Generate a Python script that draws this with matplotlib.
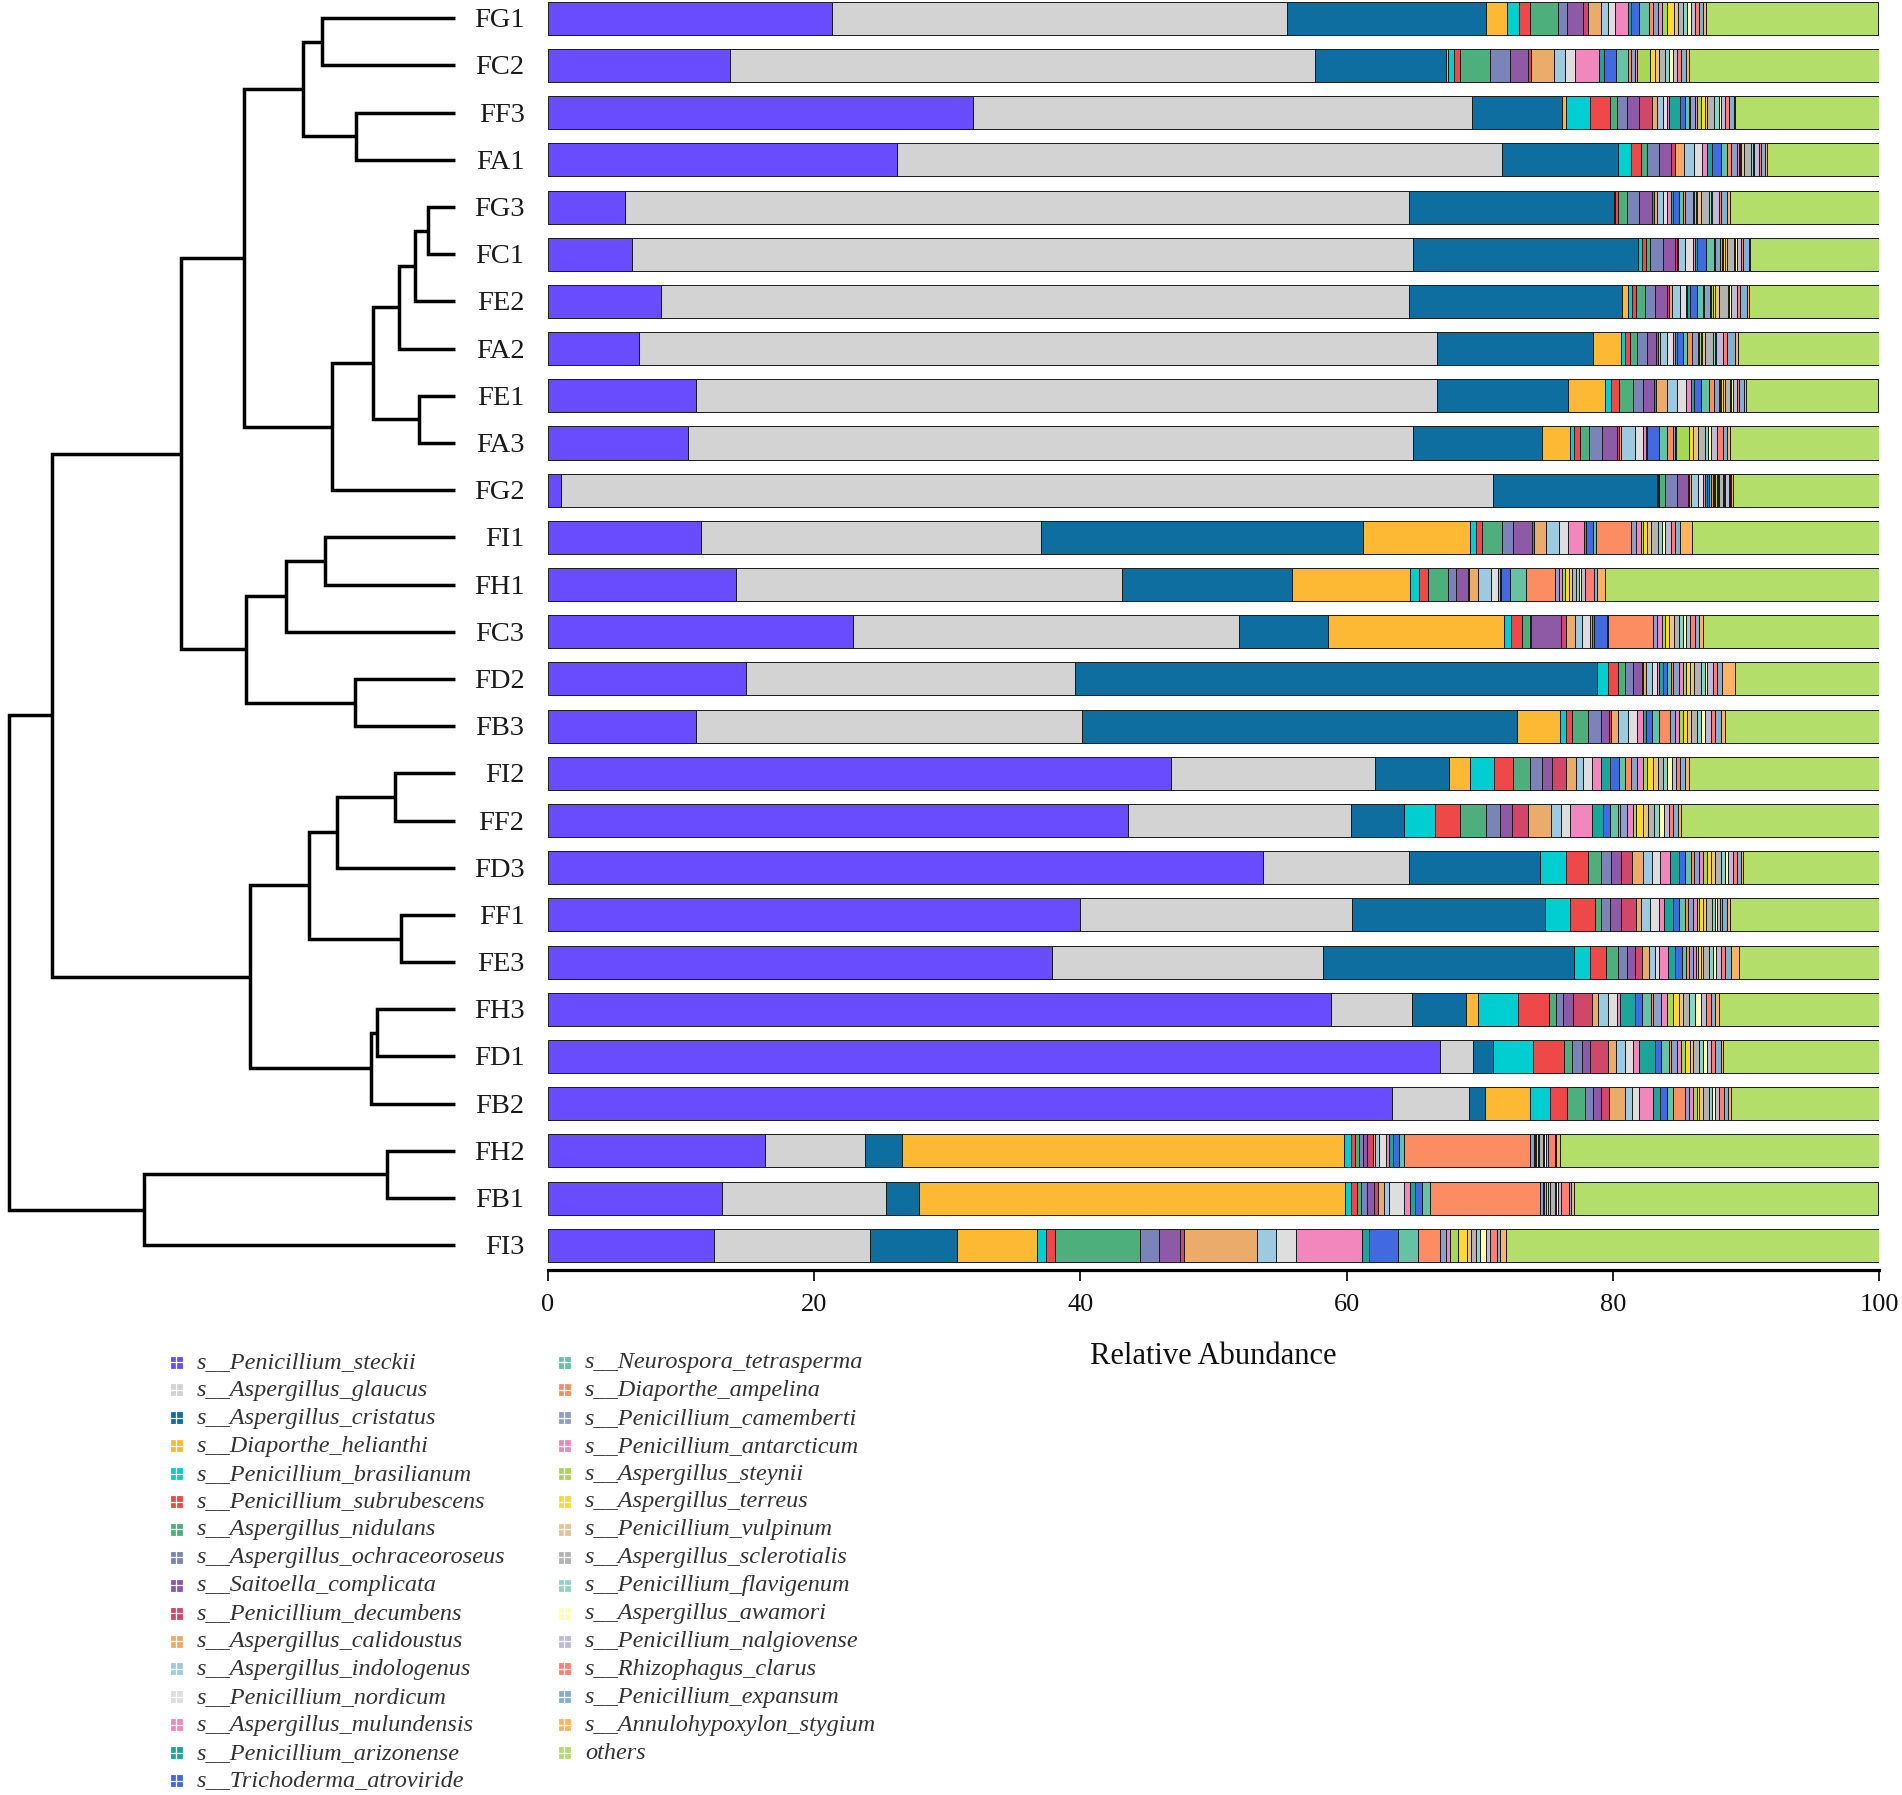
import matplotlib
matplotlib.use("Agg")
import matplotlib.pyplot as plt
import numpy as np
from matplotlib.patches import Rectangle

plt.rcParams['font.family'] = ['Liberation Serif', 'DejaVu Serif']

# ---------------- data ----------------
samples = ["FG1", "FC2", "FF3", "FA1", "FG3", "FC1", "FE2", "FA2", "FE1", "FA3",
           "FG2", "FI1", "FH1", "FC3", "FD2", "FB3", "FI2", "FF2", "FD3", "FF1",
           "FE3", "FH3", "FD1", "FB2", "FH2", "FB1", "FI3"]

species = ["s__Penicillium_steckii", "s__Aspergillus_glaucus", "s__Aspergillus_cristatus",
           "s__Diaporthe_helianthi", "s__Penicillium_brasilianum", "s__Penicillium_subrubescens",
           "s__Aspergillus_nidulans", "s__Aspergillus_ochraceoroseus", "s__Saitoella_complicata",
           "s__Penicillium_decumbens", "s__Aspergillus_calidoustus", "s__Aspergillus_indologenus",
           "s__Penicillium_nordicum", "s__Aspergillus_mulundensis", "s__Penicillium_arizonense",
           "s__Trichoderma_atroviride", "s__Neurospora_tetrasperma", "s__Diaporthe_ampelina",
           "s__Penicillium_camemberti", "s__Penicillium_antarcticum", "s__Aspergillus_steynii",
           "s__Aspergillus_terreus", "s__Penicillium_vulpinum", "s__Aspergillus_sclerotialis",
           "s__Penicillium_flavigenum", "s__Aspergillus_awamori", "s__Penicillium_nalgiovense",
           "s__Rhizophagus_clarus", "s__Penicillium_expansum", "s__Annulohypoxylon_stygium",
           "others"]

colors = ["#6A4CFF", "#D3D3D3", "#0E6EA0", "#FDB933", "#00CED1", "#EF4848", "#4DAF7C",
          "#7B84B8", "#8E5AA6", "#D0476A", "#EBAC6B", "#9DCAE1", "#DEDEDE", "#F287BE",
          "#1AA69A", "#4169E1", "#66C2A5", "#FC8D62", "#8DA0CB", "#E78AC3", "#A6D854",
          "#FFD92F", "#E5C494", "#B3B3B3", "#8DD3C7", "#FFFFB3", "#BEBADA", "#FB8072",
          "#80B1D3", "#FDB462", "#B3DE69"]

# relative abundance (%) per sample, in species order
FG1 = [21.3, 34.2, 15.0, 1.55, 0.9, 0.8, 2.1, 0.7, 1.2, 0.35, 1.0, 0.55, 0.5, 1.0, 0.25, 0.55, 0.8, 0.3, 0.35, 0.3, 0.4, 0.5, 0.3, 0.35, 0.3, 0.35, 0.3, 0.3, 0.3, 0.2, 12.9]
FC2 = [13.7, 43.9, 9.9, 0.1, 0.45, 0.5, 2.2, 1.5, 1.35, 0.25, 1.7, 0.85, 0.75, 1.8, 0.4, 0.9, 0.9, 0.25, 0.3, 0.1, 1.0, 0.35, 0.35, 0.4, 0.35, 0.3, 0.3, 0.3, 0.35, 0.2, 14.3]
FF3 = [31.9, 37.5, 6.8, 0.25, 1.85, 1.5, 0.55, 0.7, 0.95, 0.95, 0.35, 0.5, 0.3, 0.15, 0.8, 0.35, 0.3, 0.1, 0.35, 0.2, 0.3, 0.25, 0.2, 0.5, 0.35, 0.15, 0.35, 0.3, 0.35, 0.1, 10.8]
FA1 = [26.2, 45.5, 8.7, 0.0, 1.0, 0.7, 0.5, 0.85, 0.95, 0.3, 0.65, 0.75, 0.6, 0.4, 0.35, 0.65, 0.5, 0.3, 0.45, 0.1, 0.1, 0.1, 0.2, 0.5, 0.15, 0.1, 0.35, 0.15, 0.35, 0.15, 8.4]
FG3 = [5.8, 58.9, 15.4, 0.0, 0.1, 0.2, 0.65, 0.9, 1.0, 0.15, 0.2, 0.5, 0.3, 0.25, 0.2, 0.45, 0.3, 0.1, 0.6, 0.1, 0.15, 0.1, 0.3, 0.6, 0.1, 0.1, 0.5, 0.2, 0.4, 0.25, 11.2]
FC1 = [6.3, 58.7, 16.9, 0.0, 0.3, 0.3, 0.3, 1.0, 0.9, 0.1, 0.1, 0.5, 0.65, 0.1, 0.2, 0.65, 0.6, 0.1, 0.35, 0.15, 0.1, 0.1, 0.2, 0.5, 0.1, 0.1, 0.3, 0.2, 0.4, 0.1, 9.7]
FE2 = [8.5, 56.2, 16.0, 0.45, 0.3, 0.3, 0.65, 0.8, 0.9, 0.15, 0.2, 0.6, 0.45, 0.1, 0.2, 0.55, 0.4, 0.1, 0.45, 0.1, 0.15, 0.1, 0.3, 0.7, 0.1, 0.1, 0.5, 0.2, 0.5, 0.15, 9.8]
FA2 = [6.8, 60.0, 11.7, 2.1, 0.3, 0.4, 0.5, 0.75, 0.7, 0.15, 0.15, 0.5, 0.5, 0.1, 0.2, 0.4, 0.3, 0.4, 0.45, 0.1, 0.1, 0.1, 0.25, 0.6, 0.1, 0.1, 0.5, 0.35, 0.55, 0.25, 10.6]
FE1 = [11.1, 55.7, 9.8, 2.8, 0.5, 0.55, 1.05, 0.75, 0.85, 0.15, 0.85, 0.75, 0.65, 0.4, 0.2, 0.55, 0.55, 0.4, 0.35, 0.1, 0.1, 0.15, 0.1, 0.4, 0.1, 0.1, 0.3, 0.2, 0.35, 0.15, 9.9]
FA3 = [10.5, 54.5, 9.7, 2.1, 0.3, 0.45, 0.65, 1.0, 1.1, 0.15, 0.2, 1.0, 0.65, 0.2, 0.1, 0.85, 0.65, 0.45, 0.1, 0.1, 1.0, 0.3, 0.35, 0.5, 0.25, 0.25, 0.45, 0.4, 0.35, 0.2, 11.2]
FG2 = [1.0, 70.0, 12.3, 0.0, 0.1, 0.1, 0.4, 0.9, 0.85, 0.1, 0.1, 0.55, 0.4, 0.1, 0.15, 0.2, 0.15, 0.1, 0.1, 0.1, 0.1, 0.1, 0.1, 0.25, 0.1, 0.1, 0.25, 0.1, 0.1, 0.1, 11.0]
FI1 = [11.5, 25.55, 24.2, 8.05, 0.4, 0.5, 1.45, 0.85, 1.45, 0.15, 0.85, 1.0, 0.7, 1.2, 0.15, 0.5, 0.25, 2.6, 0.4, 0.35, 0.2, 0.3, 0.3, 0.5, 0.3, 0.25, 0.4, 0.35, 0.35, 0.9, 14.05]
FH1 = [14.1, 29.0, 12.8, 8.9, 0.65, 0.65, 1.5, 0.65, 0.85, 0.1, 0.65, 1.0, 0.55, 0.1, 0.1, 0.65, 1.2, 2.2, 0.3, 0.2, 0.25, 0.3, 0.2, 0.35, 0.2, 0.15, 0.3, 0.65, 0.25, 0.6, 20.6]
FC3 = [22.9, 29.0, 6.7, 13.2, 0.55, 0.8, 0.6, 0.1, 2.25, 0.4, 0.65, 0.55, 0.55, 0.15, 0.15, 1.0, 0.1, 3.4, 0.3, 0.35, 0.25, 0.3, 0.35, 0.35, 0.3, 0.25, 0.3, 0.35, 0.3, 0.35, 13.3]
FD2 = [14.9, 24.7, 39.2, 0.05, 0.8, 0.75, 0.55, 0.6, 0.65, 0.1, 0.2, 0.45, 0.35, 0.2, 0.3, 0.3, 0.3, 0.1, 0.45, 0.3, 0.25, 0.3, 0.3, 0.55, 0.25, 0.2, 0.45, 0.25, 0.4, 1.0, 10.8]
FB3 = [11.1, 29.0, 32.7, 3.2, 0.45, 0.5, 1.2, 0.95, 0.65, 0.15, 0.5, 0.75, 0.65, 0.5, 0.2, 0.45, 0.5, 0.85, 0.35, 0.3, 0.3, 0.35, 0.3, 0.45, 0.3, 0.3, 0.4, 0.35, 0.4, 0.35, 11.55]
FI2 = [46.8, 15.3, 5.6, 1.6, 1.8, 1.4, 1.3, 0.9, 0.75, 1.0, 0.75, 0.55, 0.65, 0.75, 0.65, 0.65, 0.5, 0.45, 0.45, 0.4, 0.35, 0.45, 0.35, 0.4, 0.3, 0.35, 0.3, 0.3, 0.4, 0.25, 14.3]
FF2 = [43.6, 16.7, 4.0, 0.0, 2.35, 1.85, 2.0, 1.0, 0.95, 1.15, 1.75, 0.75, 0.65, 1.7, 0.85, 0.5, 0.6, 0.15, 0.5, 0.5, 0.2, 0.5, 0.4, 0.45, 0.35, 0.4, 0.35, 0.35, 0.35, 0.2, 14.9]
FD3 = [53.7, 11.0, 9.8, 0.0, 1.95, 1.7, 1.0, 0.7, 0.75, 0.85, 0.85, 0.65, 0.6, 0.75, 0.65, 0.45, 0.5, 0.2, 0.35, 0.3, 0.3, 0.3, 0.3, 0.45, 0.3, 0.25, 0.35, 0.3, 0.35, 0.15, 10.2]
FF1 = [40.0, 20.4, 14.5, 0.0, 1.9, 1.85, 0.5, 0.65, 0.85, 1.1, 0.4, 0.65, 0.65, 0.4, 0.65, 0.5, 0.45, 0.2, 0.35, 0.3, 0.2, 0.3, 0.2, 0.45, 0.2, 0.2, 0.2, 0.15, 0.4, 0.2, 11.3]
FE3 = [37.9, 20.3, 18.9, 0.0, 1.2, 1.2, 0.9, 0.65, 0.65, 0.5, 0.5, 0.5, 0.3, 0.65, 0.55, 0.5, 0.3, 0.2, 0.3, 0.25, 0.15, 0.25, 0.15, 0.45, 0.25, 0.25, 0.35, 0.35, 0.4, 0.65, 10.5]
FH3 = [58.8, 6.1, 4.1, 0.9, 2.95, 2.35, 0.5, 0.55, 0.75, 1.4, 0.5, 0.75, 0.65, 0.25, 1.15, 0.5, 0.65, 0.2, 0.55, 0.5, 0.4, 0.45, 0.35, 0.45, 0.4, 0.45, 0.4, 0.35, 0.35, 0.25, 12.05]
FD1 = [67.0, 2.5, 1.5, 0.0, 3.0, 2.3, 0.65, 0.75, 0.6, 1.35, 0.6, 0.65, 0.6, 0.45, 1.2, 0.45, 0.6, 0.2, 0.4, 0.35, 0.3, 0.35, 0.25, 0.4, 0.3, 0.3, 0.35, 0.3, 0.4, 0.2, 11.7]
FB2 = [63.4, 5.8, 1.2, 3.4, 1.5, 1.25, 1.35, 0.6, 0.65, 0.6, 1.15, 0.55, 0.55, 1.0, 0.55, 0.55, 0.45, 0.85, 0.35, 0.25, 0.3, 0.2, 0.3, 0.45, 0.2, 0.2, 0.35, 0.35, 0.3, 0.25, 11.1]
FH2 = [16.3, 7.5, 2.8, 33.2, 0.55, 0.3, 0.25, 0.3, 0.3, 0.45, 0.2, 0.3, 0.5, 0.2, 0.3, 0.45, 0.4, 9.5, 0.25, 0.1, 0.1, 0.1, 0.1, 0.3, 0.1, 0.1, 0.2, 0.5, 0.1, 0.25, 24.0]
FB1 = [13.1, 12.3, 2.5, 32.0, 0.4, 0.45, 0.35, 0.45, 0.5, 0.3, 0.45, 0.35, 1.2, 0.45, 0.35, 0.5, 0.65, 8.2, 0.25, 0.1, 0.15, 0.15, 0.1, 0.4, 0.1, 0.1, 0.25, 0.6, 0.15, 0.25, 22.8]
FI3 = [12.5, 11.7, 6.5, 6.05, 0.65, 0.7, 6.4, 1.4, 1.55, 0.35, 5.5, 1.4, 1.5, 4.95, 0.55, 2.15, 1.55, 1.6, 0.45, 0.3, 0.65, 0.65, 0.3, 0.4, 0.3, 0.4, 0.3, 0.55, 0.2, 0.5, 28.0]

# hierarchical clustering merges (left, right, merge distance); new nodes are n1, n2, ...
merge_left = ["FG1", "FF3", "n1", "FG3", "n4", "n5", "FE1", "n6", "n8", "n3",
              "FI1", "n11", "FD2", "n12", "n10", "FI2", "n16", "FF1", "n17", "FH3",
              "n20", "n19", "n15", "FH2", "n24", "n23"]
merge_right = ["FC2", "FA1", "n2", "FC1", "FE2", "FA2", "FA3", "n7", "FG2", "n9",
               "FH1", "FC3", "FB3", "n13", "n14", "FF2", "FD3", "FE3", "n18", "FD1",
               "FB2", "n21", "n22", "FB1", "FI3", "n25"]
merge_height = [110, 82, 125.5, 22.5, 33, 46, 29.5, 67.5, 101.5, 174,
                107.5, 139.5, 82.5, 172, 226, 49.5, 97.5, 44.5, 120, 64,
                69, 169, 332, 56, 256, 368]

# ---------------- figure ----------------
W, H = 1902, 1795
fig = plt.figure(figsize=(W / 100, H / 100), dpi=100)

n = len(samples)
row_sp = 47.19
y0 = 18.3
ax_bottom_px = 1270
ylim = ((ax_bottom_px - y0) / row_sp, -y0 / row_sp)
frac_bottom = 1 - ax_bottom_px / H
frac_height = ax_bottom_px / H

# legend axes (pixel coordinates)
ax_l = fig.add_axes([0, 0, 1, 1])
ax_l.set_xlim(0, W)
ax_l.set_ylim(H, 0)
ax_l.axis('off')

# bar axes
bx0, bx1 = 548, 1879
ax = fig.add_axes([bx0 / W, frac_bottom, (bx1 - bx0) / W, frac_height])
table = np.array([globals()[s] for s in samples], dtype=float)
ypos = np.arange(n)
left = np.zeros(n)
for j in range(len(species)):
    w = table[:, j]
    m = w > 0
    ax.barh(ypos[m], w[m], left=left[m], height=0.7, color=colors[j],
            edgecolor='#1a1a1a', linewidth=0.7)
    left += w
ax.set_xlim(0, 100)
ax.set_ylim(*ylim)
ax.set_yticks([])
for s in ['top', 'right', 'left']:
    ax.spines[s].set_visible(False)
ax.spines['bottom'].set_linewidth(2.3)
ax.set_xticks([0, 20, 40, 60, 80, 100])
ax.tick_params(axis='x', length=8, width=1.3, direction='out', labelsize=19,
               pad=9, colors='#111111')
fig.text((bx0 + bx1) / 2 / W, 1 - 1364 / H, "Relative Abundance", ha='center',
         va='baseline', fontsize=22, color='#111111')

# dendrogram axes
ax_d = fig.add_axes([0, frac_bottom, bx0 / W, frac_height])
ax_d.set_ylim(*ylim)
leaf_px = 455
sc = 1.213
ax_d.set_xlim(leaf_px / sc, (leaf_px - bx0) / sc)
ax_d.axis('off')
pos = {s: i for i, s in enumerate(samples)}
hgt = {s: 0.0 for s in samples}
for k, (a, b, h) in enumerate(zip(merge_left, merge_right, merge_height)):
    ya, yb = pos[a], pos[b]
    ax_d.plot([hgt[a], h, h, hgt[b]], [ya, ya, yb, yb], color='black', lw=2.5,
              solid_joinstyle='miter', solid_capstyle='butt')
    nm = "n%d" % (k + 1)
    pos[nm] = (ya + yb) / 2
    hgt[nm] = h
lab_x = (leaf_px - 524.6) / sc
for i, s in enumerate(samples):
    ax_d.text(lab_x, i + 9 / row_sp, s, ha='right', va='baseline', fontsize=20.5,
              color='#1a1a1a', clip_on=False)

# legend
for k, (name, c) in enumerate(zip(species, colors)):
    col, r = (0, k) if k < 16 else (1, k - 16)
    xm = 176 if col == 0 else 564
    xt = 197 if col == 0 else 585
    yc = 1362 + r * 27.9
    ax_l.add_patch(Rectangle((xm - 5.5, yc - 5.5), 11, 11, facecolor=c,
                             edgecolor=c, lw=0.6))
    ax_l.plot([xm - 5.5, xm + 5.5], [yc, yc], color='white', lw=0.9)
    ax_l.plot([xm, xm], [yc - 5.5, yc + 5.5], color='white', lw=0.9)
    ax_l.text(xt, yc + 6, name, ha='left', va='baseline', fontsize=17.5,
              style='italic', color='#333333')

fig.savefig("out.png", dpi=100)
